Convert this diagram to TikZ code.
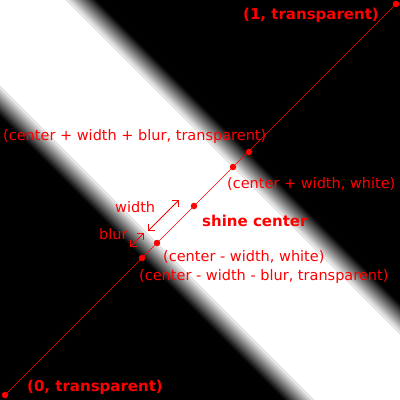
\documentclass[tikz,border=0pt]{standalone}
\usepackage{fontspec}
\setmainfont{DejaVu Sans}
\usetikzlibrary{arrows.meta}
\begin{document}
\begin{tikzpicture}[x=1pt,y=-1pt,
  lbl/.style={text=red,font=\fontsize{14.5}{16}\selectfont,inner sep=0pt,anchor=west},
  blbl/.style={text=red,font=\fontsize{15}{17}\selectfont\bfseries,inner sep=0pt,anchor=west},
  dot/.style={circle,fill=red,inner sep=0pt,minimum size=6.5pt},
  barb/.tip={Straight Barb[length=4.5pt,width=9pt]},
  dim/.style={red,line width=0.8pt,barb-barb}]
\useasboundingbox (0,0) rectangle (400,400);
\begin{scope}
  \clip (0,0) rectangle (400,400);
  \fill[black] (0,0) rectangle (400,400);
  \fill[white] (66+600,600) -- (66-600,-600) -- (-86-600,-600) -- (-86+600,600) -- cycle;
  \foreach \i in {0,...,30}{
    \pgfmathsetmacro{\pc}{100*(1-(\i+0.5)/31)}
    \pgfmathsetmacro{\ca}{66+\i}
    \pgfmathsetmacro{\cb}{67.4+\i}
    \fill[white!\pc!black] (\ca+600,600) -- (\ca-600,-600) -- (\cb-600,-600) -- (\cb+600,600) -- cycle;
  }
  \foreach \i in {0,...,29}{
    \pgfmathsetmacro{\pc}{100*(1-(\i+0.5)/30)}
    \pgfmathsetmacro{\ca}{-86-\i}
    \pgfmathsetmacro{\cb}{-87.4-\i}
    \fill[white!\pc!black] (\ca+600,600) -- (\ca-600,-600) -- (\cb-600,-600) -- (\cb+600,600) -- cycle;
  }
\end{scope}
\node[dot] (p0) at (5,395) {};
\node[dot] (p1) at (396,4) {};
\node[dot] (ewb) at (249,152) {};
\node[dot] (ew) at (233,167) {};
\node[dot] (sc) at (194,206) {};
\node[dot] (mw) at (157,243) {};
\node[dot] (mwb) at (142,258) {};
\draw[red,line width=0.6pt] (p0.center) -- (p1.center);
\coordinate (wa1) at (148,231);
\coordinate (wa2) at (179,200);
\coordinate (ba1) at (130,247);
\coordinate (ba2) at (144,233);
\draw[dim] (wa1) -- (wa2);
\draw[dim] (ba1) -- (ba2);
\node[blbl] (t1) at (243,15) {(1, transparent)};
\node[blbl] (t0) at (27,387) {(0, transparent)};
\node[lbl] (tewb) at (3,136) {(center + width + blur, transparent)};
\node[lbl] (tew) at (227,184) {(center + width, white)};
\node[lbl] (twidth) at (115,207) {width};
\node[blbl] (tsc) at (202,221) {shine center};
\node[lbl] (tblur) at (99,234) {blur};
\node[lbl] (tmw) at (163,257) {(center - width, white)};
\node[lbl] (tmwb) at (139,276) {(center - width - blur, transparent)};
\end{tikzpicture}
\end{document}
